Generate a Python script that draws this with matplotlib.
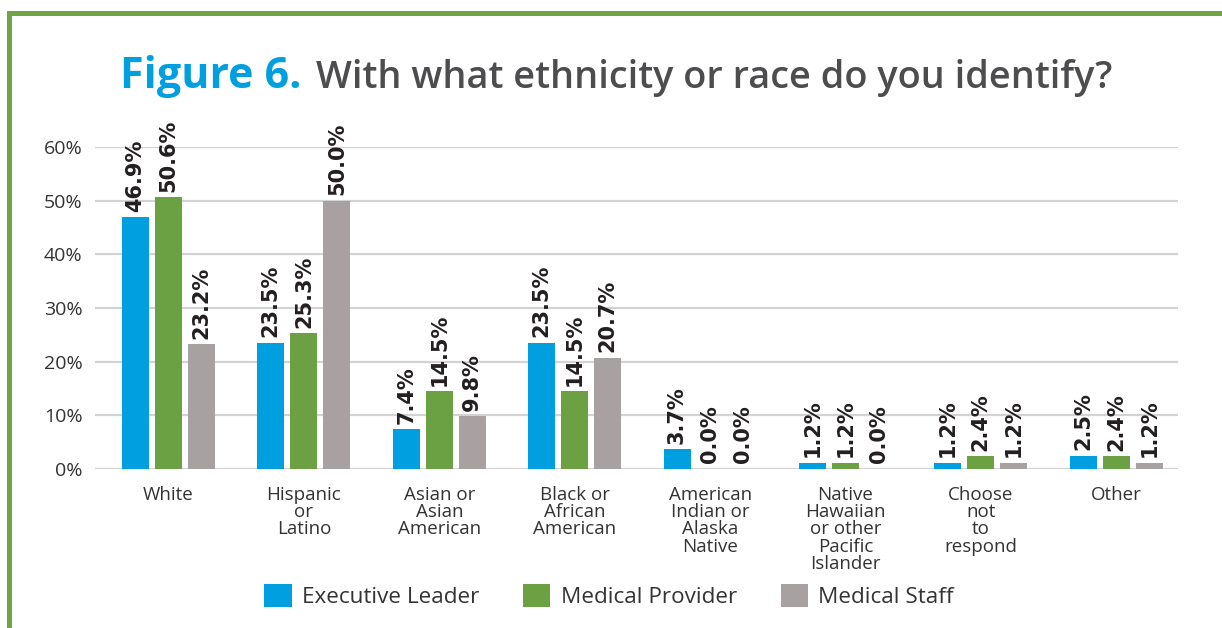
import matplotlib
matplotlib.use("Agg")
import matplotlib.pyplot as plt
from matplotlib.patches import Patch
from matplotlib.lines import Line2D
import numpy as np

categories = [
    "White",
    "Hispanic\nor\nLatino",
    "Asian or\nAsian\nAmerican",
    "Black or\nAfrican\nAmerican",
    "American\nIndian or\nAlaska\nNative",
    "Native\nHawaiian\nor other\nPacific\nIslander",
    "Choose\nnot\nto\nrespond",
    "Other",
]
series_names = ["Executive Leader", "Medical Provider", "Medical Staff"]
executive_leader = [46.9, 23.5, 7.4, 23.5, 3.7, 1.2, 1.2, 2.5]
medical_provider = [50.6, 25.3, 14.5, 14.5, 0.0, 1.2, 2.4, 2.4]
medical_staff = [23.2, 50.0, 9.8, 20.7, 0.0, 0.0, 1.2, 1.2]
y_ticks = [0, 10, 20, 30, 40, 50, 60]
y_tick_labels = ["0%", "10%", "20%", "30%", "40%", "50%", "60%"]

colors = ["#009FDF", "#6BA142", "#A7A2A1"]
text_dark = "#231F20"
font = "Open Sans"

W, H = 1222, 628
fig = plt.figure(figsize=(W / 100, H / 100), dpi=100)
fig.patch.set_facecolor("white")

ax = fig.add_axes([95 / W, 1 - 469 / H, (1178 - 95) / W, (469 - 147) / H])
x = np.arange(len(categories))
offset = 0.244
width = 0.2
all_series = [executive_leader, medical_provider, medical_staff]
for i, (vals, c) in enumerate(zip(all_series, colors)):
    pos = x + (i - 1) * offset
    ax.bar(pos, vals, width=width, color=c, zorder=3)
    for px, v in zip(pos, vals):
        ax.annotate(f"{v:.1f}%", (px, v), xytext=(0, 4), textcoords="offset points",
                    rotation=90, ha="center", va="bottom", fontsize=15,
                    fontweight="bold", color=text_dark, family="DejaVu Sans",
                    annotation_clip=False, zorder=4)

ax.set_xlim(-0.543, 7.456)
ax.set_ylim(0, 60)
ax.set_yticks(y_ticks)
ax.set_yticklabels(y_tick_labels, fontsize=14, color="#333333", family=font)
ax.set_xticks(x)
ax.set_xticklabels(categories, fontsize=13.5, color="#333333", family=font,
                   linespacing=0.95)
ax.tick_params(axis="both", length=0)
ax.tick_params(axis="y", pad=9)
ax.tick_params(axis="x", pad=12)
ax.yaxis.grid(True, color="#D3D3D3", linewidth=1.6, zorder=0)
ax.set_axisbelow(True)
for s in ax.spines.values():
    s.set_visible(False)

# Title: blue figure number followed by the question
title_y = 1 - 88 / H
fig.text(120 / W, title_y, "Figure 6.", color="#009FDF", fontsize=31,
         fontweight="bold", family=font, va="baseline", ha="left")
t1 = fig.text(0, 0, "Figure 6.", fontsize=31, fontweight="bold", family=font)
fig.canvas.draw()
bb = t1.get_window_extent()
t1.remove()
fig.text((120 + bb.width + 14) / W, title_y, "With what ethnicity or race do you identify?",
         color="#4D4D4F", fontsize=27.3, fontweight="semibold", family=font,
         va="baseline", ha="left")

# Legend
handles = [Patch(facecolor=c, edgecolor="none") for c in colors]
fig.legend(handles, series_names, loc="center", bbox_to_anchor=(609 / W, 1 - 596 / H),
           ncol=3, frameon=False, handlelength=1.22, handleheight=1.22,
           handletextpad=0.45, columnspacing=1.95, labelcolor="#333333",
           prop={"family": font, "size": 16.2})

# Green frame along the top and left edges
frame_color = "#6FA544"
fig.add_artist(Line2D([8.5 / W, 8.5 / W], [0, 1 - 12.5 / H], transform=fig.transFigure,
                      color=frame_color, linewidth=3.6, solid_capstyle="projecting"))
fig.add_artist(Line2D([8.5 / W, 1], [1 - 12.5 / H, 1 - 12.5 / H], transform=fig.transFigure,
                      color=frame_color, linewidth=3.6, solid_capstyle="projecting"))

fig.savefig("out.png", dpi=100, facecolor="white")
